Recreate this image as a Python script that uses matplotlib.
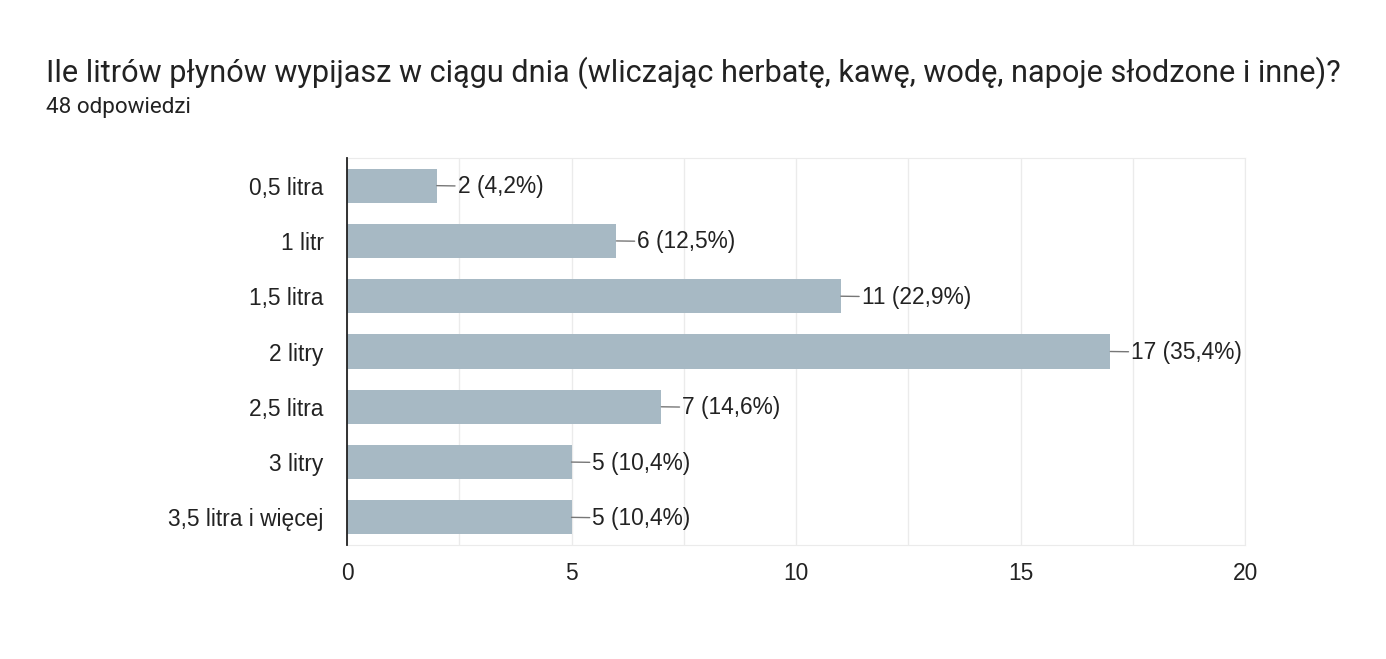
import matplotlib
matplotlib.use("Agg")
import matplotlib.pyplot as plt
from matplotlib.ticker import MultipleLocator

categories = ["0,5 litra", "1 litr", "1,5 litra", "2 litry", "2,5 litra", "3 litry", "3,5 litra i więcej"]
counts = [2, 6, 11, 17, 7, 5, 5]
percents = ["4,2%", "12,5%", "22,9%", "35,4%", "14,6%", "10,4%", "10,4%"]
xticks = [0, 5, 10, 15, 20]
title = "Ile litrów płynów wypijasz w ciągu dnia (wliczając herbatę, kawę, wodę, napoje słodzone i inne)?"
subtitle = "48 odpowiedzi"

plt.rcParams['font.family'] = ['Liberation Sans', 'DejaVu Sans']
LBL = 16.4

fig = plt.figure(figsize=(13.86, 6.59), dpi=100)
ax = fig.add_axes([347/1386, 1-545/659, (1245-347)/1386, (545-158)/659])

ypos = list(range(len(categories)))
ax.barh(ypos, counts, height=0.62, color="#a7b9c4", zorder=3)
ax.set_ylim(len(categories)-0.5, -0.5)
ax.set_xlim(0, 20)
ax.set_yticks(ypos)
ax.set_yticklabels(categories)
ax.set_xticks(xticks)
ax.xaxis.set_minor_locator(MultipleLocator(2.5))
ax.grid(axis='x', which='both', color='#ebebeb', lw=1, zorder=0)
ax.tick_params(axis='both', which='both', length=0, labelsize=LBL, colors='#222222')
ax.tick_params(axis='y', pad=17)
ax.tick_params(axis='x', pad=12)
for s in ['top', 'right', 'bottom']:
    ax.spines[s].set_color('#ebebeb')
ax.spines['left'].set_color('#222222')
ax.spines['left'].set_linewidth(1.3)
ax.spines['left'].set_zorder(4)

for i, (c, p) in enumerate(zip(counts, percents)):
    ax.annotate(f"{c} ({p})", xy=(c, i), xytext=(21, -1), textcoords='offset pixels',
                va='center', ha='left', fontsize=LBL, color='#222222',
                arrowprops=dict(arrowstyle='-', color='#777777', lw=1, shrinkA=0, shrinkB=0))

fig.text(46/1386, 1-73/659, title, fontsize=22.1, color='#222222', va='center', ha='left',
         family=['Roboto', 'DejaVu Sans'])
fig.text(46/1386, 1-108/659, subtitle, fontsize=16.2, color='#222222', va='center', ha='left',
         family=['Roboto', 'DejaVu Sans'])

fig.savefig("out.png", dpi=100, facecolor='white')
